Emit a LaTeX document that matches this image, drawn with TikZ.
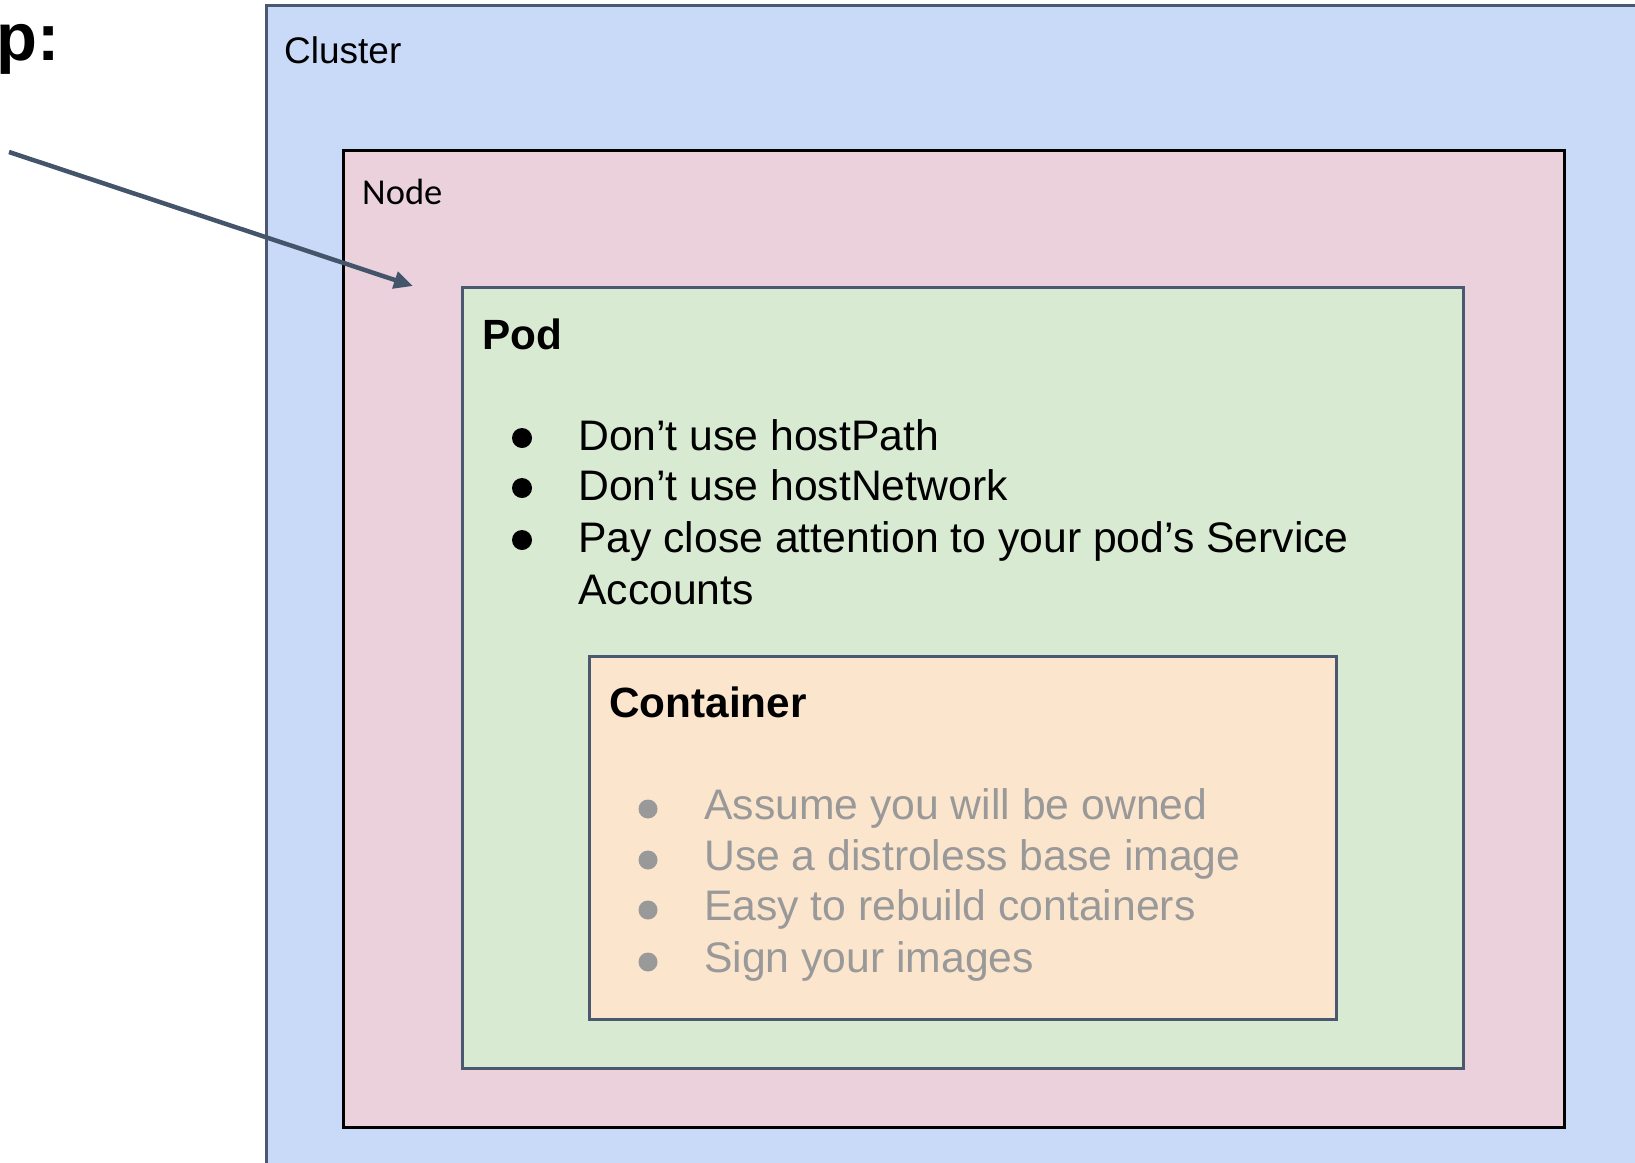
\documentclass[tikz,border=0pt]{standalone}
\usepackage{fontspec}
\setmainfont{Liberation Sans}
\newfontfamily\calfont{Carlito}
\usetikzlibrary{arrows.meta}

\definecolor{clusterfill}{HTML}{C9DAF8}
\definecolor{nodefill}{HTML}{EAD1DC}
\definecolor{podfill}{HTML}{D9EAD3}
\definecolor{ctrfill}{HTML}{FCE5CD}
\definecolor{slate}{HTML}{4A5870}
\definecolor{arrowcol}{HTML}{44546A}
\definecolor{softgray}{HTML}{999999}

\tikzset{
  layer/.style={draw, line width=3pt, anchor=north west, inner sep=0pt, outer sep=0pt},
  label/.style={inner sep=0pt, anchor=base west},
  bigtext/.style={label, font=\fontsize{42.7}{50}\selectfont},
  heading/.style={label, font=\fontsize{42.3}{50}\selectfont\bfseries},
  dot/.style={circle, inner sep=0pt, minimum size=20pt},
}

\begin{document}
\begin{tikzpicture}[x=1pt, y=-1pt]
  \useasboundingbox (0,0) rectangle (1635,1162);
  \clip (0,0) rectangle (1635,1162);

  % nested boxes: cluster > node > pod > container
  \node[layer, draw=slate, fill=clusterfill, minimum width=1400pt, minimum height=1200pt] (cluster) at (266,5) {};
  \node[layer, draw=black, fill=nodefill, minimum width=1221pt, minimum height=977pt] (node) at (343,150) {};
  \node[layer, draw=slate, fill=podfill, minimum width=1001pt, minimum height=781pt] (pod) at (462,287) {};
  \node[layer, draw=slate, fill=ctrfill, minimum width=747pt, minimum height=363pt] (ctr) at (589,656) {};

  % box titles
  \node[label, font=\fontsize{37}{44}\selectfont] (clustertitle) at (284,63) {Cluster};
  \node[label, font=\fontsize{36.5}{42}\calfont] (nodetitle) at (362,204) {Node};
  \node[heading] (podtitle) at (482,349) {Pod};
  \node[heading] (ctrtitle) at (609,717) {Container};

  % heading running off the left margin
  \node[label, font=\fontsize{67}{80}\selectfont\bfseries] (heading) at (-4,60) {p:};

  % pod recommendations
  \node[dot, fill=black] (pb1) at (522,438) {};
  \node[dot, fill=black] (pb2) at (522,488) {};
  \node[dot, fill=black] (pb3) at (522,540) {};
  \node[bigtext] (pt1) at (578,450) {Don’t use hostPath};
  \node[bigtext] (pt2) at (578,500) {Don’t use hostNetwork};
  \node[bigtext] (pt3) at (578,552) {Pay close attention to your pod’s Service};
  \node[bigtext] (pt4) at (578,604) {Accounts};

  % container recommendations
  \node[dot, fill=softgray, minimum size=19pt] (cb1) at (648,809) {};
  \node[dot, fill=softgray, minimum size=19pt] (cb2) at (648,860) {};
  \node[dot, fill=softgray, minimum size=19pt] (cb3) at (648,910) {};
  \node[dot, fill=softgray, minimum size=19pt] (cb4) at (648,962) {};
  \node[bigtext, text=softgray] (ct1) at (704,819) {Assume you will be owned};
  \node[bigtext, text=softgray] (ct2) at (704,870) {Use a distroless base image};
  \node[bigtext, text=softgray] (ct3) at (704,920) {Easy to rebuild containers};
  \node[bigtext, text=softgray] (ct4) at (704,972) {Sign your images};

  % pointer into the node
  \coordinate (tail) at (9,152);
  \coordinate (tip) at (413,286);
  \draw[arrowcol, line width=4.5pt, -{Triangle[length=19pt, width=17pt]}] (tail) -- (tip);
\end{tikzpicture}
\end{document}
